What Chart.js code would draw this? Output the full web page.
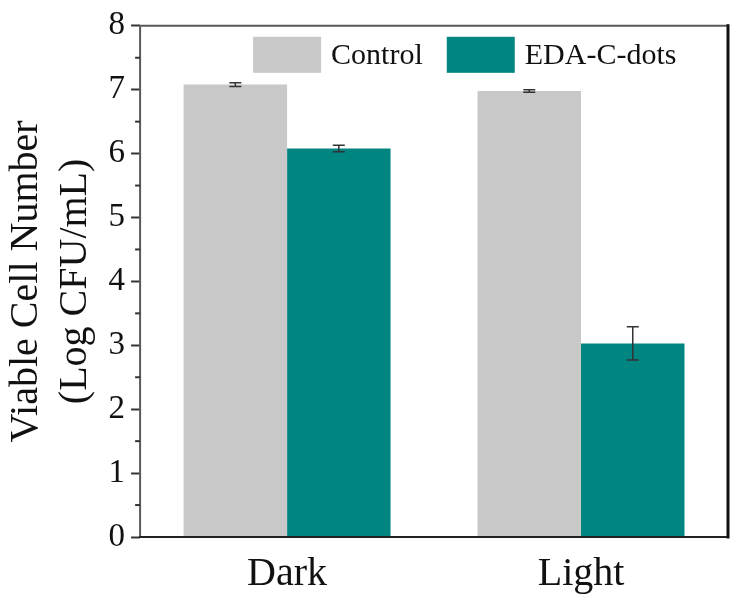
<!DOCTYPE html>
<html>
<head>
<meta charset="utf-8">
<script src="https://cdn.jsdelivr.net/npm/chart.js@4/dist/chart.umd.min.js"></script>
<style>
  html, body { margin: 0; padding: 0; background: #fff; }
  #wrap { width: 737px; height: 603px; }
</style>
</head>
<body>
<div id="wrap"><canvas id="chart"></canvas></div>
<script>
const categories = ['Dark', 'Light'];
const seriesNames = ['Control', 'EDA-C-dots'];
const controlValues = [7.08, 6.98];
const controlErrors = [0.03, 0.02];
const edaValues = [6.08, 3.03];
const edaErrors = [0.05, 0.26];
const yTickLabels = ['0', '1', '2', '3', '4', '5', '6', '7', '8'];

const serif = "'Liberation Serif', 'Times New Roman', serif";

// error bars on top of every bar
const errorBars = {
    id: 'errorBars',
    afterDatasetsDraw(chart) {
        const ctx = chart.ctx;
        const y = chart.scales.y;
        chart.data.datasets.forEach((ds, i) => {
            const meta = chart.getDatasetMeta(i);
            meta.data.forEach((bar, j) => {
                const v = ds.data[j], e = ds.errors[j];
                const top = y.getPixelForValue(v + e);
                const bot = y.getPixelForValue(v - e);
                ctx.save();
                ctx.strokeStyle = '#333';
                ctx.lineWidth = 1.5;
                ctx.beginPath();
                ctx.moveTo(bar.x, top);
                ctx.lineTo(bar.x, bot);
                ctx.moveTo(bar.x - 6, top);
                ctx.lineTo(bar.x + 6, top);
                ctx.moveTo(bar.x - 6, bot);
                ctx.lineTo(bar.x + 6, bot);
                ctx.stroke();
                ctx.restore();
            });
        });
    }
};

// frame round the plot and the short half-unit ticks
const frame = {
    id: 'frame',
    afterDraw(chart) {
        const {ctx, chartArea: a} = chart;
        const y = chart.scales.y;
        ctx.save();
        ctx.lineCap = 'square';
        ctx.strokeStyle = '#5a5a5a';
        ctx.lineWidth = 2;
        ctx.beginPath();
        ctx.moveTo(a.left, a.bottom);
        ctx.lineTo(a.left, a.top);
        ctx.lineTo(a.right, a.top);
        ctx.stroke();
        ctx.strokeStyle = '#222';
        ctx.beginPath();
        ctx.moveTo(a.left, a.bottom);
        ctx.lineTo(a.right, a.bottom);
        ctx.stroke();
        ctx.strokeStyle = '#111';
        ctx.lineWidth = 3;
        ctx.beginPath();
        ctx.moveTo(a.right, a.top);
        ctx.lineTo(a.right, a.bottom);
        ctx.stroke();
        ctx.strokeStyle = '#333';
        ctx.lineWidth = 2;
        ctx.lineCap = 'butt';
        y.ticks.forEach((t) => {
            if (t.value % 1 !== 0) {
                const py = y.getPixelForValue(t.value);
                ctx.beginPath();
                ctx.moveTo(a.left - 5, py);
                ctx.lineTo(a.left, py);
                ctx.stroke();
            }
        });
        ctx.restore();
    }
};

// legend sitting inside the plot, near the top
const insideLegend = {
    id: 'insideLegend',
    afterDraw(chart) {
        const {ctx, chartArea: a} = chart;
        ctx.save();
        ctx.font = '30px ' + serif;
        ctx.textBaseline = 'middle';
        ctx.fillStyle = '#111';
        let x = a.left + 113;
        const top = a.top + 11;
        chart.data.datasets.forEach((ds) => {
            ctx.fillStyle = ds.backgroundColor;
            ctx.fillRect(x, top, 68, 36);
            ctx.fillStyle = '#111';
            ctx.fillText(ds.label, x + 78, top + 19);
            x += 78 + ctx.measureText(ds.label).width + 24;
        });
        ctx.restore();
    }
};

const data = {
    labels: categories,
    datasets: [{
        label: seriesNames[0],
        data: controlValues,
        errors: controlErrors,
        backgroundColor: '#c8c8c8'
    }, {
        label: seriesNames[1],
        data: edaValues,
        errors: edaErrors,
        backgroundColor: '#008580'
    }]
};

const config = {
    type: 'bar',
    data: data,
    options: {
        responsive: true,
        maintainAspectRatio: false,
        animation: false,
        categoryPercentage: 0.704,
        barPercentage: 1.0,
        layout: {
            padding: { left: 2, right: 9, top: 13, bottom: 0 }
        },
        plugins: {
            legend: { display: false },
            tooltip: { enabled: false }
        },
        scales: {
            x: {
                grid: { display: false },
                border: { display: false },
                ticks: {
                    color: '#111',
                    font: { family: serif, size: 40 },
                    padding: 5
                }
            },
            y: {
                min: 0,
                max: 8,
                grid: {
                    drawOnChartArea: false,
                    tickLength: 9,
                    tickWidth: 2,
                    tickColor: (c) => (c.tick && c.tick.value % 1 === 0) ? '#333' : 'rgba(0,0,0,0)'
                },
                border: { display: false },
                ticks: {
                    stepSize: 0.5,
                    autoSkip: false,
                    color: '#111',
                    padding: 6,
                    font: { family: serif, size: 33 },
                    callback: (v) => (v % 1 === 0) ? yTickLabels[v] : ''
                },
                title: {
                    display: true,
                    text: ['Viable Cell Number', '(Log CFU/mL)'],
                    color: '#111',
                    font: { family: serif, size: 40, lineHeight: 1.22 },
                    padding: { top: 0, bottom: 3 }
                }
            }
        }
    },
    plugins: [errorBars, frame, insideLegend]
};

new Chart(document.getElementById('chart'), config);
</script>
</body>
</html>
